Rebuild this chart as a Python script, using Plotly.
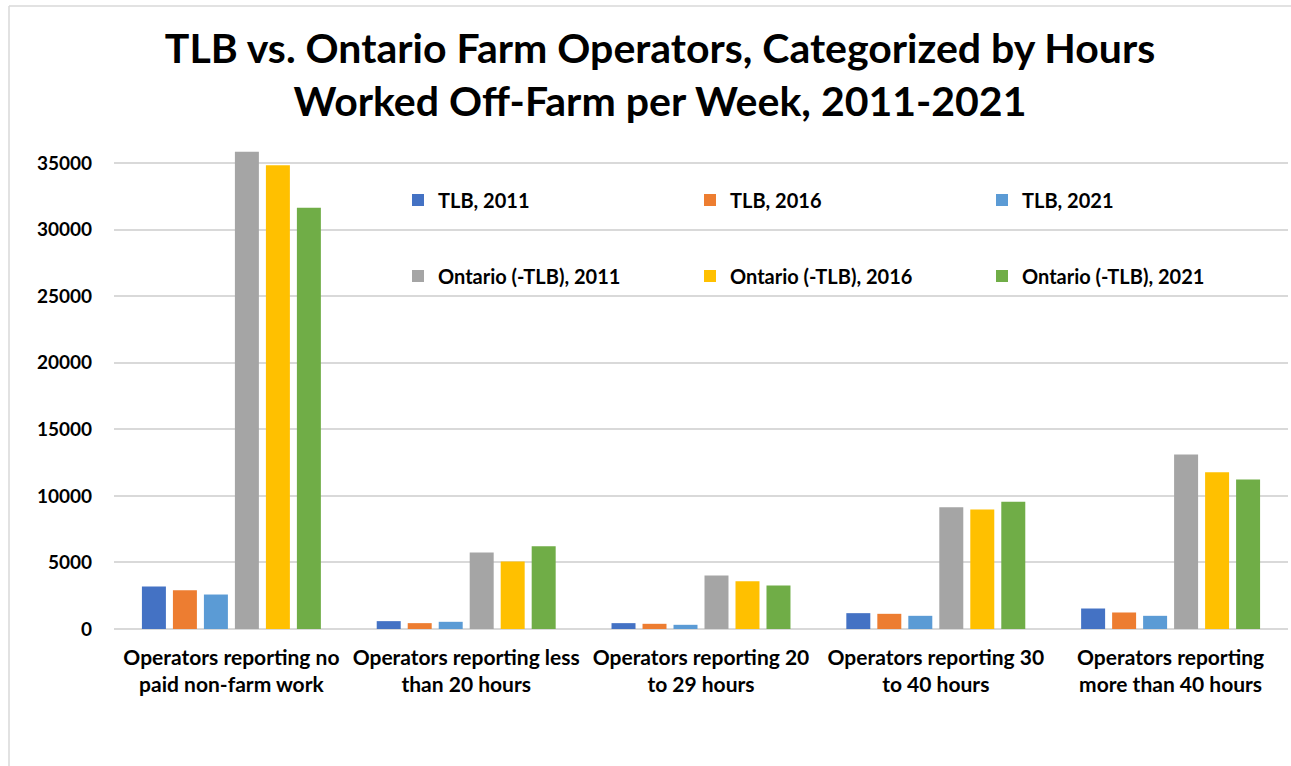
import plotly.graph_objects as go

categories = [
    "Operators reporting no<br>paid non-farm work",
    "Operators reporting less<br>than 20 hours",
    "Operators reporting 20<br>to 29 hours",
    "Operators reporting 30<br>to 40 hours",
    "Operators reporting<br>more than 40 hours",
]

series_names = [
    "TLB, 2011", "TLB, 2016", "TLB, 2021",
    "Ontario (-TLB), 2011", "Ontario (-TLB), 2016", "Ontario (-TLB), 2021",
]

tlb_2011 = [3190, 590, 440, 1190, 1540]
tlb_2016 = [2915, 440, 390, 1140, 1240]
tlb_2021 = [2590, 540, 315, 990, 990]
ont_2011 = [35840, 5745, 4020, 9150, 13100]
ont_2016 = [34830, 5070, 3590, 8975, 11780]
ont_2021 = [31630, 6220, 3270, 9550, 11230]

series_values = [tlb_2011, tlb_2016, tlb_2021, ont_2011, ont_2016, ont_2021]
colors = ["#4472C4", "#ED7D31", "#5B9BD5", "#A5A5A5", "#FFC000", "#70AD47"]
legend_ids = ["legend", "legend", "legend", "legend2", "legend2", "legend2"]

tick_vals = [0, 5000, 10000, 15000, 20000, 25000, 30000, 35000]
tick_text = ["0", "5000", "10000", "15000", "20000", "25000", "30000", "35000"]

FONT = "Lato, 'Open Sans', sans-serif"

fig = go.Figure()
for name, vals, col, lg in zip(series_names, series_values, colors, legend_ids):
    fig.add_trace(go.Bar(
        x=categories, y=vals, name=name, legend=lg,
        marker=dict(color=col, line=dict(width=0)),
    ))

W, H = 1291, 766
ml, mr, mt, mb = 114, 3, 149, 137
pw = W - ml - mr
ph = H - mt - mb

def px_x(x):
    return (x - ml) / pw

def px_y(y):
    return (H - mb - y) / ph

legend_common = dict(
    orientation="h",
    font=dict(family=FONT, size=20, color="#000000", weight="bold"),
    bgcolor="rgba(0,0,0,0)",
    entrywidth=247,
    entrywidthmode="pixels",
    xanchor="left",
    yanchor="middle",
    traceorder="normal",
)

fig.update_layout(
    width=W, height=H,
    margin=dict(l=ml, r=mr, t=mt, b=mb),
    paper_bgcolor="white",
    plot_bgcolor="white",
    barmode="group",
    bargap=0.208,
    bargroupgap=0.226,
    font=dict(family=FONT, color="#000000"),
    title=dict(
        text="TLB vs. Ontario Farm Operators, Categorized by Hours<br>Worked Off-Farm per Week, 2011-2021",
        font=dict(family=FONT, size=41, color="#000000", weight="bold"),
        x=px_x(660), xanchor="center", xref="paper",
        y=1 - 63 / H, yanchor="middle", yref="container",
    ),
    legend=dict(legend_common, x=px_x(398), y=px_y(200)),
    legend2=dict(legend_common, x=px_x(398), y=px_y(276)),
    xaxis=dict(
        showgrid=False,
        showline=False,
        ticks="",
        tickfont=dict(family=FONT, size=21, color="#000000", weight="bold"),
        ticklabelstandoff=14,
    ),
    yaxis=dict(
        range=[0, ph / (466 / 35000)],
        tickvals=tick_vals,
        ticktext=tick_text,
        showgrid=True,
        gridcolor="#D9D9D9",
        gridwidth=1.5,
        zeroline=True,
        zerolinecolor="#D9D9D9",
        zerolinewidth=1.5,
        showline=False,
        ticks="",
        tickfont=dict(family=FONT, size=19, color="#000000", weight="bold"),
        ticklabelstandoff=21,
    ),
    shapes=[
        dict(type="line", xref="paper", yref="paper",
             x0=px_x(9), x1=px_x(9), y0=px_y(6), y1=px_y(H + 5),
             line=dict(color="#D9D9D9", width=1.5)),
        dict(type="line", xref="paper", yref="paper",
             x0=px_x(9), x1=px_x(W + 5), y0=px_y(6), y1=px_y(6),
             line=dict(color="#D9D9D9", width=1.5)),
    ],
    showlegend=True,
)

fig.write_html(
    "out.html",
    config={"displayModeBar": False},
    post_script="document.body.style.margin='0';",
)
